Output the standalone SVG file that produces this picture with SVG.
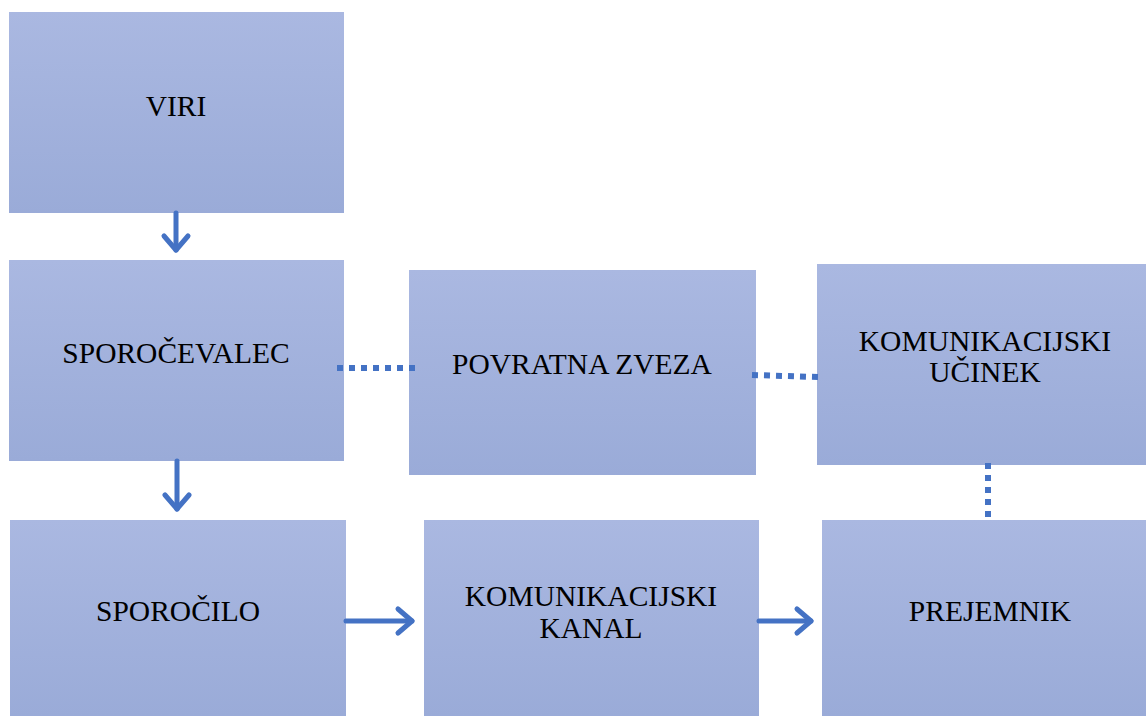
<svg xmlns="http://www.w3.org/2000/svg" width="1146" height="716" viewBox="0 0 1146 716">
<defs>
<linearGradient id="g" x1="0" y1="0" x2="0" y2="1">
<stop offset="0" stop-color="#aab8e1"/>
<stop offset="1" stop-color="#9aabd8"/>
</linearGradient>
<style>
.box{fill:url(#g);}
.t{font-family:"Liberation Serif","Times New Roman",serif;font-size:29.5px;fill:#000;text-anchor:middle;}
.arr{stroke:#4472c4;stroke-width:5;fill:none;stroke-linecap:round;stroke-linejoin:round;}
.dot{stroke:#4472c4;stroke-width:6;fill:none;stroke-dasharray:6 6;}
</style>
</defs>
<g id="viri"><rect class="box" x="9" y="12" width="335" height="201"/><text class="t" x="176" y="116">VIRI</text></g>
<g id="sporocevalec"><rect class="box" x="9" y="260" width="335" height="201"/><text class="t" x="176" y="363">SPOROČEVALEC</text></g>
<g id="sporocilo"><rect class="box" x="10" y="520" width="336" height="196"/><text class="t" x="178" y="621">SPOROČILO</text></g>
<g id="povratna"><rect class="box" x="409" y="270" width="347" height="205"/><text class="t" x="582" y="374">POVRATNA ZVEZA</text></g>
<g id="ucinek"><rect class="box" x="817" y="264" width="329" height="201"/><text class="t" x="985" y="351">KOMUNIKACIJSKI</text><text class="t" x="985" y="382">UČINEK</text></g>
<g id="kanal"><rect class="box" x="424" y="520" width="335" height="196"/><text class="t" x="591" y="606">KOMUNIKACIJSKI</text><text class="t" x="591" y="638">KANAL</text></g>
<g id="prejemnik"><rect class="box" x="822" y="520" width="324" height="196"/><text class="t" x="990" y="621">PREJEMNIK</text></g>
<g id="connectors">
<path class="arr" d="M176,213 V250"/>
<path class="arr" d="M164,236 L176,250 L188,236"/>
<path class="arr" d="M177,461 V509"/>
<path class="arr" d="M165,495 L177,509 L189,495"/>
<path class="arr" d="M346,621 H412"/>
<path class="arr" d="M398,609 L412,621 L398,633"/>
<path class="arr" d="M759,621 H811"/>
<path class="arr" d="M797,609 L811,621 L797,633"/>
<path class="dot" d="M337,368 H417"/>
<path class="dot" d="M752,375 L818,377"/>
<path class="dot" d="M988,463 V517"/>
</g>
</svg>
